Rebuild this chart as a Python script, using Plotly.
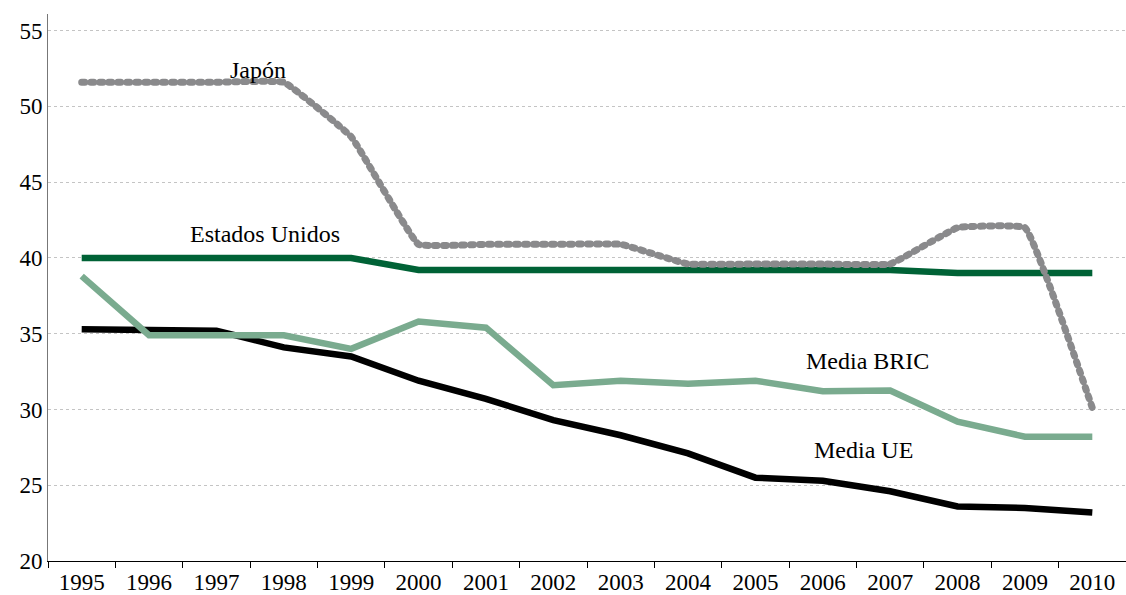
import plotly.graph_objects as go

years = [str(y) for y in range(1995, 2011)]
japon = [51.6, 51.6, 51.6, 51.6, 48.0, 40.9, 40.9, 40.9, 40.9, 39.6, 39.6, 39.6, 39.6, 42.0, 42.0, 30.1]
eeuu = [40.0, 40.0, 40.0, 40.0, 40.0, 39.2, 39.2, 39.2, 39.2, 39.2, 39.2, 39.2, 39.2, 39.0, 39.0, 39.0]
bric = [38.8, 34.9, 34.9, 34.9, 34.0, 35.8, 35.4, 31.6, 31.9, 31.7, 31.9, 31.2, 31.25, 29.2, 28.2, 28.2]
ue = [35.3, 35.3, 35.2, 34.1, 33.5, 31.9, 30.7, 29.3, 28.3, 27.1, 25.5, 25.3, 24.6, 23.6, 23.5, 23.2]
y_ticks = [20, 25, 30, 35, 40, 45, 50, 55]

FONT = "Liberation Serif, Times New Roman, serif"

fig = go.Figure()
fig.add_trace(go.Scatter(x=years, y=ue, mode="lines", name="Media UE",
                         line=dict(color="#000000", width=6.5)))
fig.add_trace(go.Scatter(x=years, y=bric, mode="lines", name="Media BRIC",
                         line=dict(color="#7aab8f", width=6.5)))
fig.add_trace(go.Scatter(x=years, y=eeuu, mode="lines", name="Estados Unidos",
                         line=dict(color="#006236", width=6.5)))
fig.add_trace(go.Scatter(x=years, y=japon, mode="lines", name="Japón",
                         line=dict(color="#8a8a8c", width=7, dash="3px,6px", shape="spline", smoothing=0.25)))

ann = [
    ("Japón", 2.62, 52.4),
    ("Estados Unidos", 2.72, 41.6),
    ("Media BRIC", 11.67, 33.2),
    ("Media UE", 11.6, 27.3),
]
for text, x, y in ann:
    fig.add_annotation(x=x, y=y, text=text, showarrow=False,
                       font=dict(family=FONT, size=24, color="#000000"))

fig.update_layout(
    width=1126, height=595,
    margin=dict(l=48, r=0, t=14, b=32),
    paper_bgcolor="white", plot_bgcolor="white",
    showlegend=False,
    font=dict(family=FONT, size=23, color="#000000"),
)
fig.update_xaxes(type="category", tickson="boundaries", ticks="outside", ticklen=6,
                 tickcolor="#000000", showline=True, linecolor="#000000", linewidth=1,
                 showgrid=False, tickfont=dict(family=FONT, size=23, color="#000000"), range=[-0.5, 15.5])
fig.update_yaxes(range=[20, 56.1], tickvals=y_ticks, showline=True, linecolor="#777777",
                 linewidth=1, showgrid=True, gridcolor="#c4c4c4", griddash="dot", gridwidth=1,
                 zeroline=False, ticks="", tickfont=dict(family=FONT, size=23, color="#000000"))

post = """
document.body.style.margin='0';
document.body.style.overflow='hidden';
var traces = document.querySelectorAll('.scatterlayer .trace');
var last = traces[traces.length-1];
if (last) { last.querySelectorAll('path.js-line').forEach(function(p){ p.style.strokeLinecap='round'; }); }
"""
fig.write_html("out.html", post_script=post, config={"displayModeBar": False})
